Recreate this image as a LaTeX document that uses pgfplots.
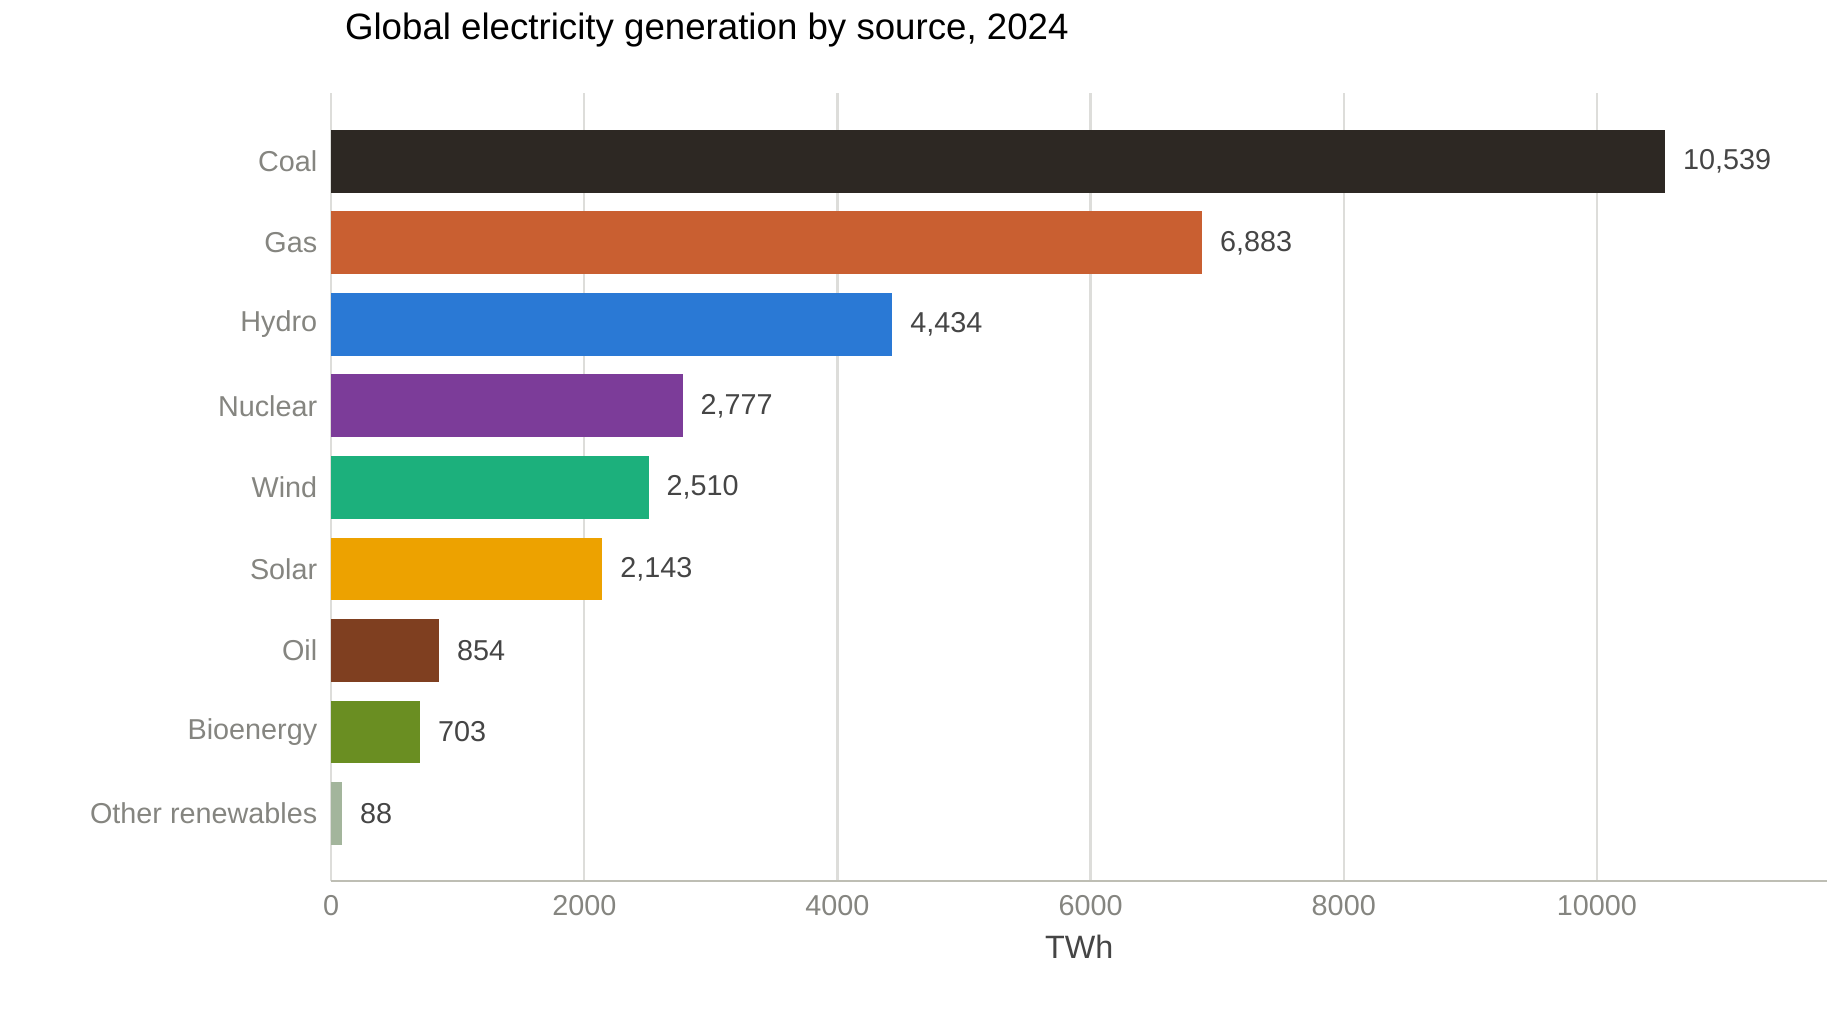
\documentclass[border=0pt]{standalone}
\usepackage{pgfplots}
\pgfplotsset{compat=1.18}
\usepackage{fontspec}
\setmainfont{Liberation Sans}
\definecolor{gridc}{HTML}{DDDDDA}
\definecolor{labc}{HTML}{858580}
\definecolor{valc}{HTML}{454545}
\definecolor{axc}{HTML}{BEBEB4}
\definecolor{c1}{HTML}{2D2823}
\definecolor{c2}{HTML}{C95F31}
\definecolor{c3}{HTML}{2A79D5}
\definecolor{c4}{HTML}{7C3C99}
\definecolor{c5}{HTML}{1CB07C}
\definecolor{c6}{HTML}{EDA200}
\definecolor{c7}{HTML}{7F3F20}
\definecolor{c8}{HTML}{6A8E22}
\definecolor{c9}{HTML}{A3B59C}
\begin{document}
\begin{tikzpicture}
\begin{axis}[
  scale only axis, width=379.5pt, height=200pt,
  xbar, bar width=0.77, bar shift=0pt,
  xmin=0, xmax=11820, ymin=-0.83, ymax=8.84,
  ytick={0,...,8},
  yticklabels={Other renewables,Bioenergy,Oil,Solar,Wind,Nuclear,Hydro,Gas,Coal},
  xtick={0,2000,...,10000},
  /pgf/number format/assume math mode=true,
  scaled x ticks=false, xticklabel style={/pgf/number format/1000 sep={}},
  major tick length=0pt,
  xmajorgrids, grid style={gridc, line width=0.6pt},
  axis line style={draw=none},
  ticklabel style={font=\fontsize{7.3}{8}\selectfont, text=labc},
  xlabel={TWh}, xlabel style={font=\fontsize{8.2}{9}\selectfont, text=valc, yshift=2pt},
  title={Global electricity generation by source, 2024},
  title style={font=\fontsize{9.3}{11}\selectfont, at={(rel axis cs:0,1)}, anchor=south west, yshift=2pt},
  nodes near coords, nodes near coords align={horizontal},
  every node near coord/.append style={font=\fontsize{7.3}{8}\selectfont, text=valc, /pgf/number format/assume math mode=true, /pgf/number format/1000 sep={,}, xshift=1pt},
  clip=false,
]
\addplot[fill=c1, draw=none] coordinates {(10539,8)};
\addplot[fill=c2, draw=none] coordinates {(6883,7)};
\addplot[fill=c3, draw=none] coordinates {(4434,6)};
\addplot[fill=c4, draw=none] coordinates {(2777,5)};
\addplot[fill=c5, draw=none] coordinates {(2510,4)};
\addplot[fill=c6, draw=none] coordinates {(2143,3)};
\addplot[fill=c7, draw=none] coordinates {(854,2)};
\addplot[fill=c8, draw=none] coordinates {(703,1)};
\addplot[fill=c9, draw=none] coordinates {(88,0)};
\draw[axc, line width=0.6pt] (rel axis cs:0,0) -- (rel axis cs:1,0);
\coordinate (O) at (rel axis cs:0,0);
\end{axis}
\path[use as bounding box] ([xshift=-84pt,yshift=-36pt]O) rectangle ([xshift=384pt,yshift=221pt]O);
\end{tikzpicture}
\end{document}
